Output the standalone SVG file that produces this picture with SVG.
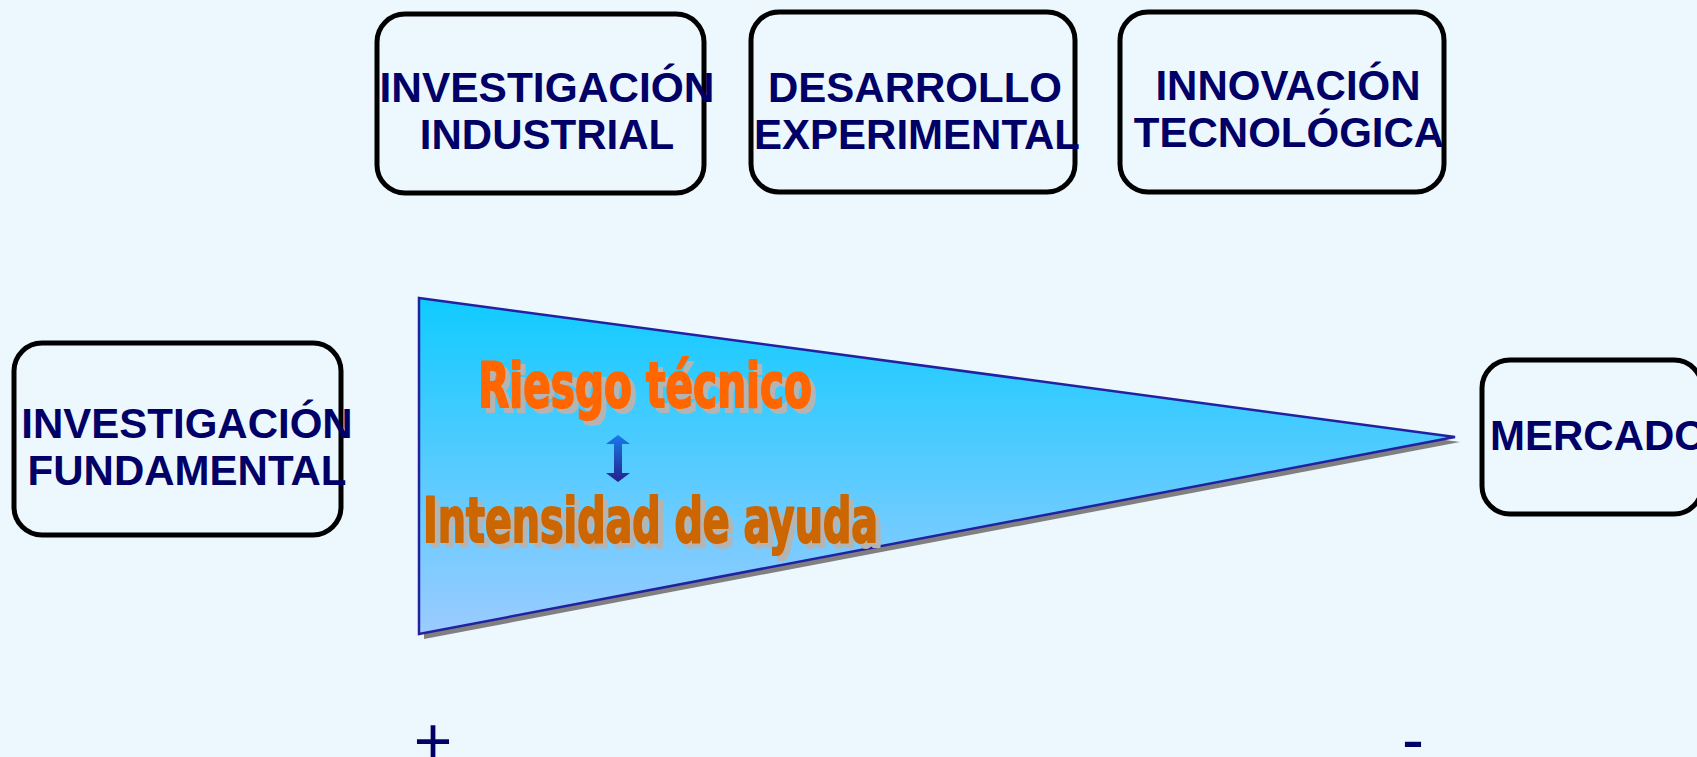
<svg xmlns="http://www.w3.org/2000/svg" width="1697" height="757" viewBox="0 0 1697 757">
  <style>
    .box { fill: #ECF7FE; stroke: #000000; stroke-width: 5; }
    .lbl { font-family: "Liberation Sans", Arial, sans-serif; font-weight: bold; font-size: 42px; fill: #000066; text-anchor: middle; }
    .big { font-family: "Liberation Sans Narrow", "DejaVu Sans Condensed", "Liberation Sans", sans-serif; font-weight: bold; font-size: 63px; stroke-width: 2; stroke-linejoin: round; }
    .shadow { fill: #B4B4B4; stroke: #B4B4B4; }
    .sign { font-family: "Liberation Sans", Arial, sans-serif; font-size: 66px; fill: #000066; text-anchor: middle; }
  </style>
  <defs>
    <linearGradient id="triGrad" x1="0" y1="0" x2="0" y2="1">
      <stop offset="0" stop-color="#10CBFF"/>
      <stop offset="1" stop-color="#9CCBFF"/>
    </linearGradient>
    <linearGradient id="arrGrad" x1="0" y1="0" x2="0" y2="1">
      <stop offset="0" stop-color="#1A78EA"/>
      <stop offset="1" stop-color="#24228C"/>
    </linearGradient>
  </defs>
  <rect x="0" y="0" width="1697" height="757" fill="#ECF7FE"/>

  <g id="funnel">
    <polygon points="424,303 1460,442 424,639" fill="#808080"/>
    <polygon points="419,298 1455,437 419,634" fill="url(#triGrad)" stroke="#2222A0" stroke-width="2.5" stroke-linejoin="miter"/>
  </g>

  <g id="riesgo">
    <text class="big shadow" x="483" y="412" textLength="334" lengthAdjust="spacingAndGlyphs">Riesgo técnico</text>
    <text class="big" x="478" y="407" fill="#FF6600" stroke="#FF6600" textLength="334" lengthAdjust="spacingAndGlyphs">Riesgo técnico</text>
  </g>

  <g id="connectors">
    <polygon points="618,435 630,444 622,444 622,473 630,473 618,482 606,473 614,473 614,444 606,444" fill="url(#arrGrad)"/>
  </g>

  <g id="intensidad">
    <text class="big shadow" x="428" y="547" textLength="455" lengthAdjust="spacingAndGlyphs">Intensidad de ayuda</text>
    <text class="big" x="423" y="542" fill="#CC6600" stroke="#CC6600" textLength="455" lengthAdjust="spacingAndGlyphs">Intensidad de ayuda</text>
  </g>

  <g id="inv-industrial">
    <rect class="box" x="377" y="14" width="327" height="179" rx="28" ry="28"/>
    <text class="lbl" x="547" y="102" textLength="335" lengthAdjust="spacingAndGlyphs">INVESTIGACIÓN</text>
    <text class="lbl" x="547" y="149">INDUSTRIAL</text>
  </g>

  <g id="des-experimental">
    <rect class="box" x="751" y="12" width="324" height="180" rx="28" ry="28"/>
    <text class="lbl" x="915" y="102">DESARROLLO</text>
    <text class="lbl" x="917" y="149">EXPERIMENTAL</text>
  </g>

  <g id="inn-tecnologica">
    <rect class="box" x="1120" y="12" width="324" height="180" rx="28" ry="28"/>
    <text class="lbl" x="1288" y="100">INNOVACIÓN</text>
    <text class="lbl" x="1289" y="147">TECNOLÓGICA</text>
  </g>

  <g id="inv-fundamental">
    <rect class="box" x="14" y="343" width="327" height="192" rx="28" ry="28"/>
    <text class="lbl" x="187" y="438">INVESTIGACIÓN</text>
    <text class="lbl" x="187" y="485">FUNDAMENTAL</text>
  </g>

  <g id="mercado">
    <rect class="box" x="1482" y="360" width="220" height="154" rx="28" ry="28"/>
    <text class="lbl" x="1490" y="450" style="text-anchor:start">MERCADO</text>
  </g>

  <g id="signs">
    <text class="sign" x="433" y="764">+</text>
    <text class="sign" x="1413" y="762">-</text>
  </g>
</svg>
